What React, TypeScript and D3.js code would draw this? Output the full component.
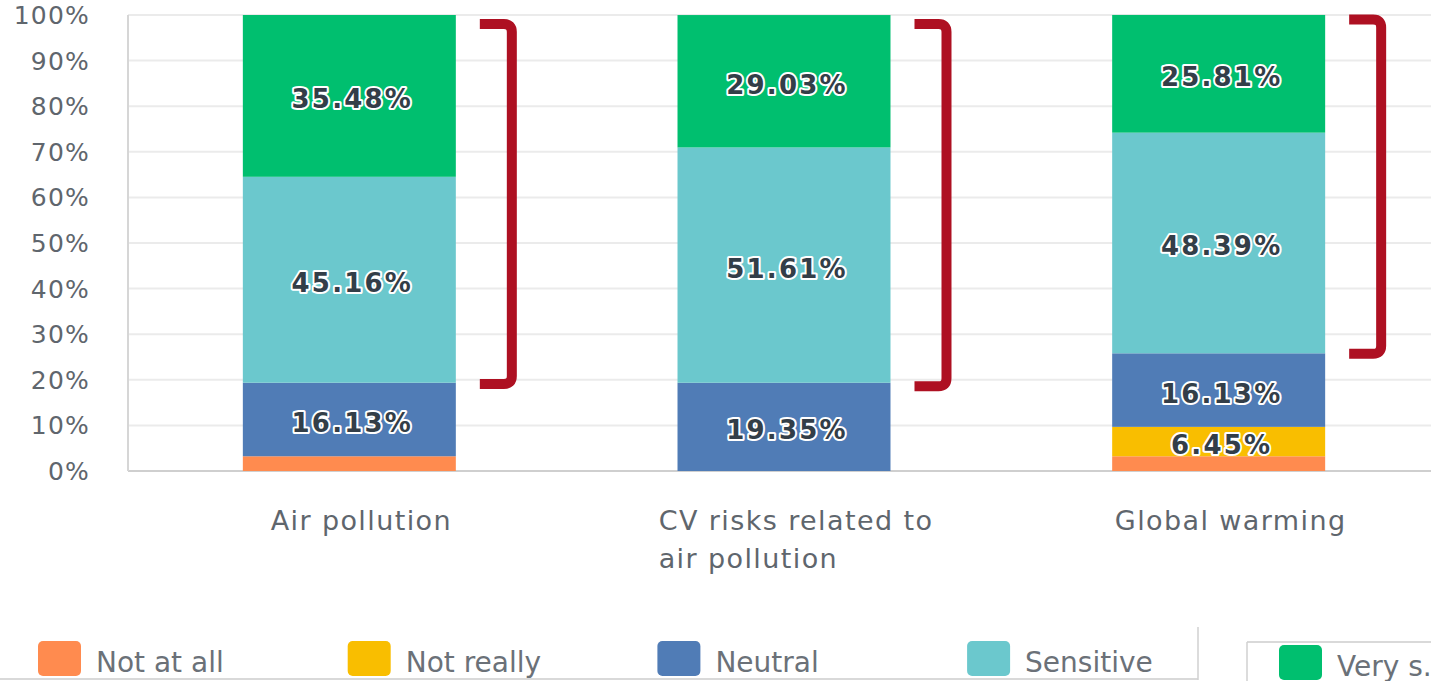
import React, { useEffect, useRef } from "react";
import * as d3 from "d3";

const categories = ["Air pollution", "CV risks related to\nair pollution", "Global warming"];
const seriesNames = ["Not at all", "Not really", "Neutral", "Sensitive", "Very sensitive"];
const legendLabels = ["Not at all", "Not really", "Neutral", "Sensitive", "Very s..."];
const seriesColors = ["#FF8B4F", "#F9BE00", "#507CB6", "#6BC8CD", "#00BF6F"];
const notAtAll = [3.23, 0, 3.23];
const notReally = [0, 0, 6.45];
const neutral = [16.13, 19.35, 16.13];
const sensitive = [45.16, 51.61, 48.39];
const verySensitive = [35.48, 29.03, 25.81];
const yTicks = [0, 10, 20, 30, 40, 50, 60, 70, 80, 90, 100];
// bracket extents (percent) around "Sensitive" + "Very sensitive"
const bracketLow = [19.1, 18.6, 25.7];
const bracketHigh = [98.0, 98.0, 99.0];

const W = 1431;
const H = 681;

export default function App() {
  const ref = useRef<SVGSVGElement | null>(null);

  useEffect(() => {
    const svg = d3.select(ref.current);
    svg.selectAll("*").remove();

    const values = [notAtAll, notReally, neutral, sensitive, verySensitive];
    const rows = categories.map((c, i) => {
      const r: any = { cat: c };
      seriesNames.forEach((s, k) => (r[s] = values[k][i]));
      return r;
    });
    const stacked = d3.stack().keys(seriesNames)(rows);

    const x = d3.scaleBand().domain(categories).range([132, 1436]).padding(0);
    const barW = x.bandwidth() * 0.49;
    const y = d3.scaleLinear().domain([0, 100]).range([471, 15]);
    const plotLeft = 128;

    const font = "'DejaVu Sans', sans-serif";

    // gridlines
    svg
      .append("g")
      .selectAll("line")
      .data(yTicks)
      .join("line")
      .attr("x1", plotLeft)
      .attr("x2", W)
      .attr("y1", (d) => y(d))
      .attr("y2", (d) => y(d))
      .attr("stroke", (d) => (d === 0 ? "#cfcfcf" : "#ebebeb"))
      .attr("stroke-width", 2);

    // y axis line
    svg
      .append("line")
      .attr("x1", plotLeft)
      .attr("x2", plotLeft)
      .attr("y1", y(100))
      .attr("y2", y(0))
      .attr("stroke", "#d6d6d6")
      .attr("stroke-width", 2);

    // y tick labels
    svg
      .append("g")
      .selectAll("text")
      .data(yTicks)
      .join("text")
      .attr("x", 90)
      .attr("y", (d) => y(d))
      .attr("dy", "0.36em")
      .attr("text-anchor", "end")
      .attr("font-family", font)
      .attr("font-size", 25)
      .attr("letter-spacing", 1.2)
      .attr("fill", "#5f666d")
      .text((d) => `${d}%`);

    // bars
    const gBars = svg.append("g");
    stacked.forEach((layer, k) => {
      gBars
        .append("g")
        .attr("fill", seriesColors[k])
        .selectAll("rect")
        .data(layer)
        .join("rect")
        .attr("x", (d: any) => (x(d.data.cat) as number) + (x.bandwidth() - barW) / 2)
        .attr("width", barW)
        .attr("y", (d: any) => y(d[1]))
        .attr("height", (d: any) => Math.max(0, y(d[0]) - y(d[1])));
    });

    // value labels
    const gLab = svg.append("g");
    stacked.forEach((layer) => {
      layer.forEach((d: any) => {
        const v = d[1] - d[0];
        if (v < 5) return;
        const cx = (x(d.data.cat) as number) + x.bandwidth() / 2 + 3;
        const cy = y((d[0] + d[1]) / 2);
        gLab
          .append("text")
          .attr("x", cx)
          .attr("y", cy)
          .attr("dy", "0.48em")
          .attr("text-anchor", "middle")
          .attr("font-family", font)
          .attr("font-weight", "bold")
          .attr("font-size", 26)
          .attr("letter-spacing", 2.2)
          .attr("fill", "#333e48")
          .attr("stroke", "#ffffff")
          .attr("stroke-width", 4)
          .attr("stroke-linejoin", "round")
          .attr("paint-order", "stroke")
          .text(`${v.toFixed(2)}%`);
      });
    });

    // brackets
    const r = 8;
    svg
      .append("g")
      .selectAll("path")
      .data(categories.map((c, i) => ({ c, lo: bracketLow[i], hi: bracketHigh[i] })))
      .join("path")
      .attr("d", (d) => {
        const right = (x(d.c) as number) + (x.bandwidth() + barW) / 2;
        const x0 = right + 24;
        const xv = x0 + 32;
        const yt = y(d.hi);
        const yb = y(d.lo);
        return `M${x0},${yt} H${xv - r} Q${xv},${yt} ${xv},${yt + r} V${yb - r} Q${xv},${yb} ${xv - r},${yb} H${x0}`;
      })
      .attr("fill", "none")
      .attr("stroke", "#AE1022")
      .attr("stroke-width", 10);

    // x labels
    const gX = svg.append("g");
    categories.forEach((c) => {
      const lines = c.split("\n");
      const cx = (x(c) as number) + x.bandwidth() / 2 + 12;
      const t = gX
        .append("text")
        .attr("font-family", font)
        .attr("font-size", 27)
        .attr("letter-spacing", 1.4)
        .attr("fill", "#5f666d");
      lines.forEach((ln, i) => {
        t.append("tspan").attr("y", 530 + i * 38).text(ln);
      });
      const tspans = t.selectAll("tspan").nodes() as SVGTSpanElement[];
      const maxW = d3.max(tspans, (n) => n.getComputedTextLength()) || 0;
      tspans.forEach((n) => d3.select(n).attr("x", cx - maxW / 2));
    });

    // legend
    const gL = svg.append("g");
    gL.append("line").attr("x1", 0).attr("x2", 1198).attr("y1", 679).attr("y2", 679).attr("stroke", "#d9d9d9").attr("stroke-width", 2);
    gL.append("line").attr("x1", 1198).attr("x2", 1198).attr("y1", 627).attr("y2", 680).attr("stroke", "#d0d0d0").attr("stroke-width", 1.5);
    gL.append("line").attr("x1", 1247).attr("x2", W).attr("y1", 642).attr("y2", 642).attr("stroke", "#d9d9d9").attr("stroke-width", 2);
    gL.append("line").attr("x1", 1247).attr("x2", 1247).attr("y1", 642).attr("y2", H).attr("stroke", "#d0d0d0").attr("stroke-width", 1.5);

    const legendX = (i: number) => (i < 4 ? 38 + i * 309.7 : 1279);
    const legendY = (i: number) => (i < 4 ? 641 : 645);
    legendLabels.forEach((lab, i) => {
      gL.append("rect")
        .attr("x", legendX(i))
        .attr("y", legendY(i))
        .attr("width", 43)
        .attr("height", 35)
        .attr("rx", 5)
        .attr("fill", seriesColors[i]);
      gL.append("text")
        .attr("x", legendX(i) + 58)
        .attr("y", legendY(i) + 31)
        .attr("font-family", font)
        .attr("font-size", 28)
        .attr("fill", "#6b7178")
        .text(lab);
    });
  }, []);

  return (
    <svg
      ref={ref}
      width={W}
      height={H}
      style={{ position: "absolute", left: 0, top: 0, background: "#ffffff", fontFamily: "'DejaVu Sans', sans-serif" }}
    />
  );
}
